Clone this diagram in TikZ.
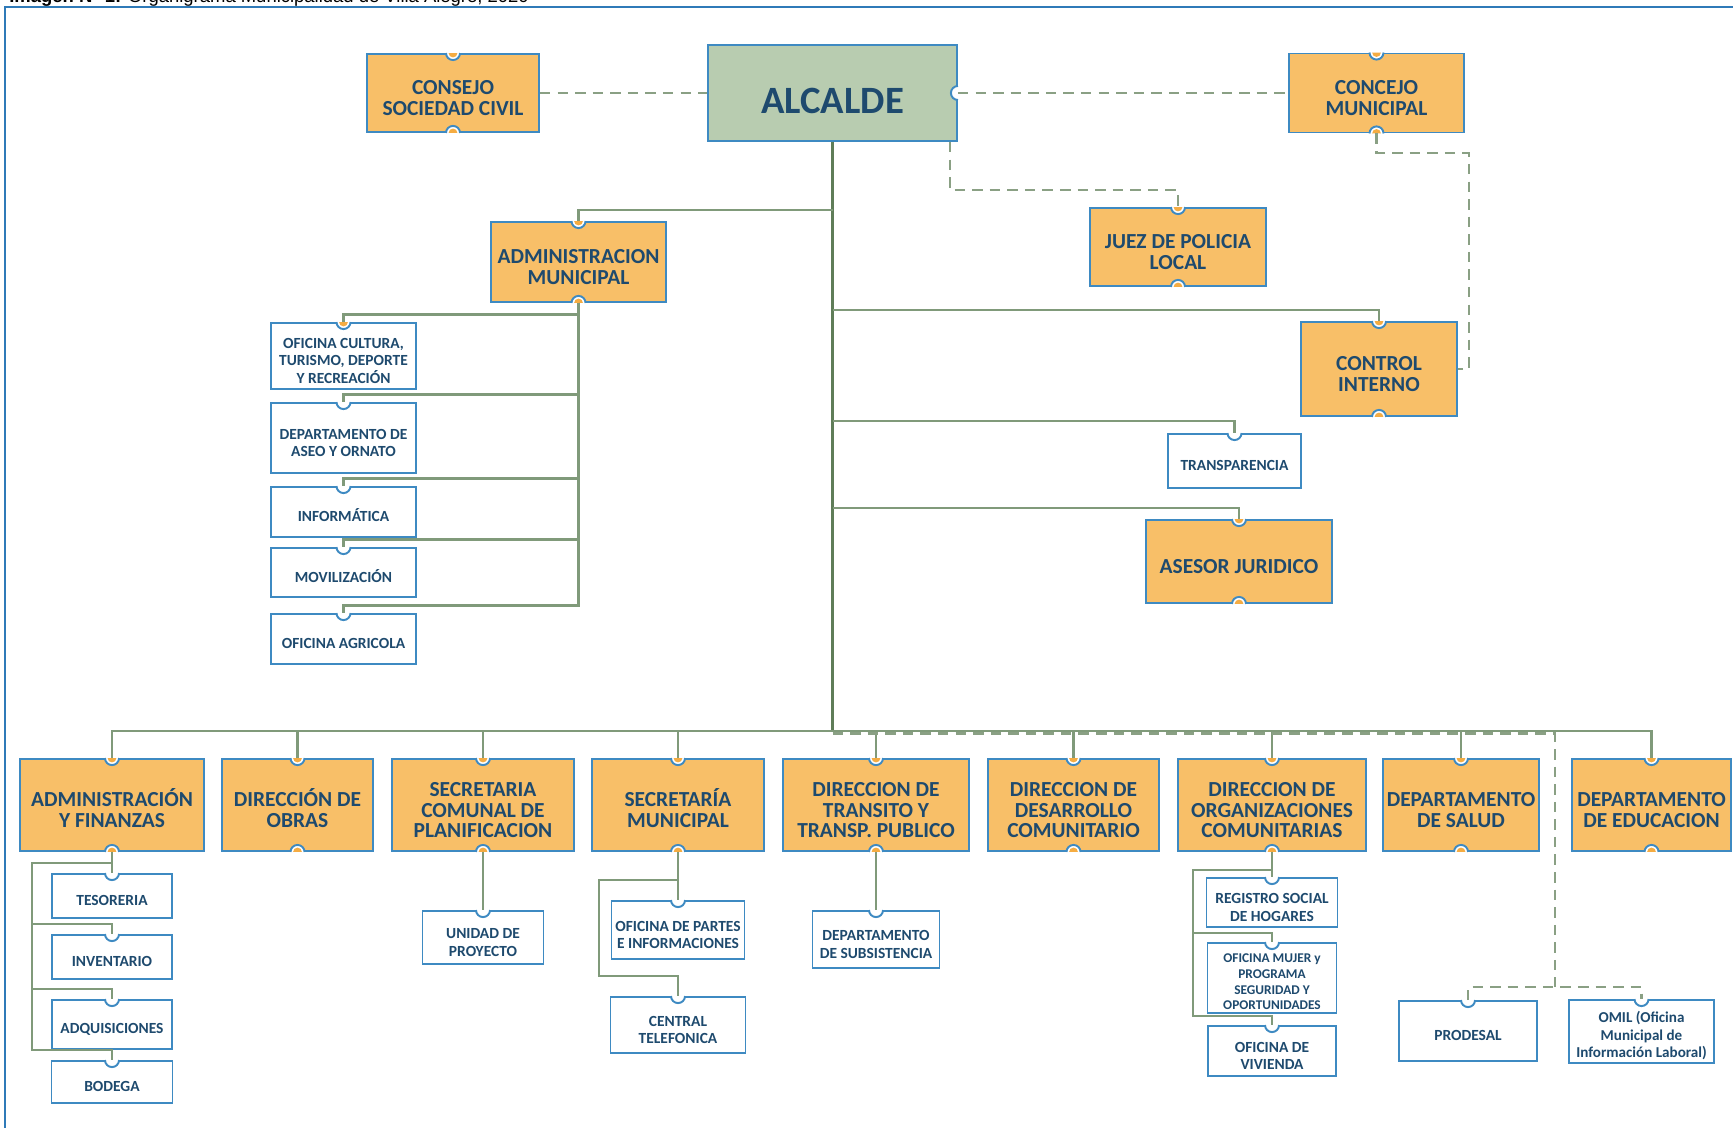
\documentclass[tikz,border=0pt]{standalone}
\usepackage{fontspec}
\setmainfont{Carlito}
\newfontfamily\titulofont{Liberation Sans}
\usetikzlibrary{positioning}

\definecolor{naranja}{RGB}{248,191,104}
\definecolor{punto}{RGB}{245,172,66}
\definecolor{verdecaja}{RGB}{184,204,176}
\definecolor{borde}{RGB}{62,138,194}
\definecolor{letra}{RGB}{30,74,110}
\definecolor{rama}{RGB}{128,154,122}
\definecolor{tallo}{RGB}{95,125,88}
\definecolor{trazo}{RGB}{138,160,132}
\definecolor{marco}{RGB}{47,122,184}

% puntal invisible para bajar el texto de las cajas
\newcommand{\tope}{\rule{0pt}{14pt}}
\newcommand{\topito}{\rule{0pt}{11.2pt}}

\tikzset{
  jefe/.style={draw=borde, line width=1.1pt, fill=naranja, text=letra, align=center, inner sep=1pt, font=\fontsize{12.2}{11.8}\selectfont\bfseries},
  sub/.style={draw=borde, line width=1.1pt, fill=white, text=letra, align=center, inner sep=1pt, font=\fontsize{8.8}{10}\selectfont\bfseries},
  linea/.style={draw=rama, line width=1.4pt},
  guion/.style={draw=trazo, line width=1.6pt, dash pattern=on 6pt off 4pt},
}

\begin{document}
\begin{tikzpicture}[x=0.02cm, y=-0.02cm]
\useasboundingbox (0,0) rectangle (1733,1128);
\draw[marco, line width=1pt] (5,1140) -- (5,7) -- (1745,7);
\node[anchor=base west, inner sep=0, font=\titulofont\fontsize{10.5}{12}\selectfont] (titulo) at (9,3) {\textbf{Imagen N° 1:} Organigrama Municipalidad de Villa Alegre, 2020};

% cabeza
\node[draw=borde, line width=1.1pt, fill=verdecaja, text=letra, font=\fontsize{22}{24}\selectfont\bfseries, minimum width=4.98cm, minimum height=1.92cm] (alcalde) at (832.5,93) {\rule{0pt}{23pt}ALCALDE};
\node[jefe, minimum width=3.44cm, minimum height=1.56cm] (consejo) at (453,93) {\tope CONSEJO\\SOCIEDAD CIVIL};
\node[jefe, minimum width=3.50cm, minimum height=1.58cm] (concejo) at (1376.5,93) {\tope CONCEJO\\MUNICIPAL};
\node[jefe, minimum width=3.52cm, minimum height=1.56cm] (juez) at (1178,247) {\tope JUEZ DE POLICIA\\LOCAL};
\node[jefe, minimum width=3.50cm, minimum height=1.60cm] (admin) at (578.5,262) {\tope ADMINISTRACION\\MUNICIPAL};
\node[jefe, minimum width=3.12cm, minimum height=1.88cm] (control) at (1379,369) {\tope CONTROL\\INTERNO};
\node[sub, minimum width=2.66cm, minimum height=1.08cm] (transp) at (1234.5,461) {\topito TRANSPARENCIA};
\node[jefe, minimum width=3.72cm, minimum height=1.66cm] (asesor) at (1239,561.5) {\tope ASESOR JURIDICO};

% administracion municipal
\node[sub, minimum width=2.90cm, minimum height=1.32cm] (cultura) at (343.5,356) {\topito OFICINA CULTURA,\\TURISMO, DEPORTE\\Y RECREACIÓN};
\node[sub, minimum width=2.90cm, minimum height=1.40cm] (aseo) at (343.5,438) {\topito DEPARTAMENTO DE\\ASEO Y ORNATO};
\node[sub, minimum width=2.90cm, minimum height=1.00cm] (informatica) at (343.5,512) {\topito INFORMÁTICA};
\node[sub, minimum width=2.90cm, minimum height=0.98cm] (movil) at (343.5,572.5) {\topito MOVILIZACIÓN};
\node[sub, minimum width=2.90cm, minimum height=1.00cm] (agricola) at (343.5,639) {\topito OFICINA AGRICOLA};

% fila de direcciones
\node[jefe, minimum width=3.68cm, minimum height=1.84cm] (adfin) at (112,805) {\tope ADMINISTRACIÓN\\Y FINANZAS};
\node[jefe, minimum width=3.02cm, minimum height=1.84cm] (obras) at (297.5,805) {\tope DIRECCIÓN DE\\OBRAS};
\node[jefe, minimum width=3.64cm, minimum height=1.84cm] (secplan) at (483,805) {\tope SECRETARIA\\COMUNAL DE\\PLANIFICACION};
\node[jefe, minimum width=3.44cm, minimum height=1.84cm] (secmun) at (678,805) {\tope SECRETARÍA\\MUNICIPAL};
\node[jefe, minimum width=3.72cm, minimum height=1.84cm] (transito) at (876,805) {\tope DIRECCION DE\\TRANSITO Y\\TRANSP. PUBLICO};
\node[jefe, minimum width=3.42cm, minimum height=1.84cm] (desarrollo) at (1073.5,805) {\tope DIRECCION DE\\DESARROLLO\\COMUNITARIO};
\node[jefe, minimum width=3.76cm, minimum height=1.84cm] (organiz) at (1272,805) {\tope DIRECCION DE\\ORGANIZACIONES\\COMUNITARIAS};
\node[jefe, minimum width=3.12cm, minimum height=1.84cm] (salud) at (1461,805) {\tope DEPARTAMENTO\\DE SALUD};
\node[jefe, minimum width=3.18cm, minimum height=1.84cm] (educ) at (1651.5,805) {\tope DEPARTAMENTO\\DE EDUCACION};

% unidades
\node[sub, minimum width=2.40cm, minimum height=0.88cm] (tesoreria) at (112,896) {\topito TESORERIA};
\node[sub, minimum width=2.40cm, minimum height=0.88cm] (inventario) at (112,957) {\topito INVENTARIO};
\node[sub, minimum width=2.40cm, minimum height=0.98cm] (adquis) at (112,1024.5) {\topito ADQUISICIONES};
\node[sub, minimum width=2.42cm, minimum height=0.84cm] (bodega) at (112,1082) {\topito BODEGA};
\node[sub, minimum width=2.42cm, minimum height=1.06cm] (unidad) at (483,937.5) {\topito UNIDAD DE\\PROYECTO};
\node[sub, minimum width=2.66cm, minimum height=1.16cm] (partes) at (678,930) {\topito OFICINA DE PARTES\\E INFORMACIONES};
\node[sub, minimum width=2.70cm, minimum height=1.12cm] (central) at (678,1025) {\topito CENTRAL\\TELEFONICA};
\node[sub, minimum width=2.54cm, minimum height=1.14cm] (subsist) at (876,939.5) {\topito DEPARTAMENTO\\DE SUBSISTENCIA};
\node[sub, minimum width=2.62cm, minimum height=0.98cm] (registro) at (1272,902.5) {\topito REGISTRO SOCIAL\\DE HOGARES};
\node[sub, minimum width=2.58cm, minimum height=1.40cm, font=\fontsize{7.6}{8.9}\selectfont\bfseries] (mujer) at (1272,978) {\rule{0pt}{9.5pt}OFICINA MUJER y\\PROGRAMA\\SEGURIDAD Y\\OPORTUNIDADES};
\node[sub, minimum width=2.56cm, minimum height=1.00cm] (vivienda) at (1272,1051) {\topito OFICINA DE\\VIVIENDA};
\node[sub, minimum width=2.76cm, minimum height=1.20cm] (prodesal) at (1468,1031) {\topito PRODESAL};
\node[sub, minimum width=2.90cm, minimum height=1.26cm, font=\fontsize{8.6}{10}\selectfont\bfseries] (omil) at (1641.5,1031.5) {\topito OMIL (Oficina\\Municipal de\\Información Laboral)};

% muescas
\foreach \n in {consejo,concejo,juez,admin,control,asesor,adfin,obras,secplan,secmun,transito,desarrollo,organiz,salud,educ}{
  \fill[white] (\n.north) circle (4pt);
  \draw[borde, line width=1.1pt] ([xshift=-4pt]\n.north) arc[start angle=180, end angle=360, radius=4pt];
  \fill[punto] ([xshift=-2.5pt]\n.north) arc[start angle=180, end angle=360, radius=2.5pt] -- cycle;
  \fill[white] (\n.south) circle (4pt);
  \draw[borde, line width=1.1pt] ([xshift=-4pt]\n.south) arc[start angle=180, end angle=0, radius=4pt];
  \fill[punto] ([xshift=-2.5pt]\n.south) arc[start angle=180, end angle=0, radius=2.5pt] -- cycle;
}
\foreach \n in {transp,cultura,aseo,informatica,movil,agricola,tesoreria,inventario,adquis,bodega,unidad,partes,central,subsist,registro,mujer,vivienda,prodesal,omil}{
  \fill[white] (\n.north) circle (4pt);
  \draw[borde, line width=1.1pt] ([xshift=-4pt]\n.north) arc[start angle=180, end angle=360, radius=4pt];
}
\fill[punto] ([xshift=-2.5pt]cultura.north) arc[start angle=180, end angle=360, radius=2.5pt] -- cycle;
\fill[white] (alcalde.east) circle (4pt);
\draw[borde, line width=1.1pt] ([yshift=4pt]alcalde.east) arc[start angle=90, end angle=270, radius=4pt];

% tronco y ramas
\coordinate (t1) at (832.5,210);
\coordinate (t2) at (832.5,310);
\coordinate (t3) at (832.5,421);
\coordinate (t4) at (832.5,508);
\coordinate (bus) at (832.5,731);
\draw[linea, draw=tallo, line width=2pt] (alcalde.south) -- (bus);
\draw[linea] (t1) -| (admin.north);
\draw[linea] (t2) -| (control.north);
\draw[linea] (t3) -| (transp.north);
\draw[linea] (t4) -| (asesor.north);
\draw[linea] (adfin.north) |- (bus) -| (educ.north);
\foreach \n in {obras,secplan,secmun,transito,desarrollo,organiz,salud}
  \draw[linea] (\n.north) -- (\n.north |- bus);

\foreach \n in {cultura,aseo,informatica,movil,agricola}
  \draw[linea] (admin.south) |- ([yshift=0.15cm]\n.north) -- (\n.north);

\coordinate (afcodo) at (32,863);
\draw[linea] (adfin.south) -- (tesoreria.north);
\foreach \n in {inventario,adquis,bodega}
  \draw[linea] (adfin.south) |- (afcodo) |- ([yshift=0.2cm]\n.north) -- (\n.north);

\draw[linea] (secplan.south) -- (unidad.north);
\draw[linea] (transito.south) -- (subsist.north);

\coordinate (smcodo) at (599,880);
\draw[linea] (secmun.south) -- (partes.north);
\draw[linea] (secmun.south) |- (smcodo) |- ([yshift=0.4cm]central.north) -- (central.north);

\coordinate (orcodo) at (1193,870);
\draw[linea] (organiz.south) -- (registro.north);
\foreach \n in {mujer,vivienda}
  \draw[linea] (organiz.south) |- (orcodo) |- ([yshift=0.18cm]\n.north) -- (\n.north);

% lineas de coordinacion
\draw[guion] (consejo.east) -- (alcalde.west);
\draw[guion] (alcalde.east) -- (concejo.west);
\draw[guion] ([xshift=-0.16cm]alcalde.south east) |- ([yshift=0.34cm]juez.north) -- (juez.north);
\coordinate (cc) at (1469,153);
\draw[guion] (concejo.south) |- (cc) |- (control.east);
\coordinate (dd) at (1555,987);
\draw[guion] ([yshift=-1.5pt]bus) -| (dd);
\draw[guion] (prodesal.north) |- (dd) -| (omil.north);
\end{tikzpicture}
\end{document}
